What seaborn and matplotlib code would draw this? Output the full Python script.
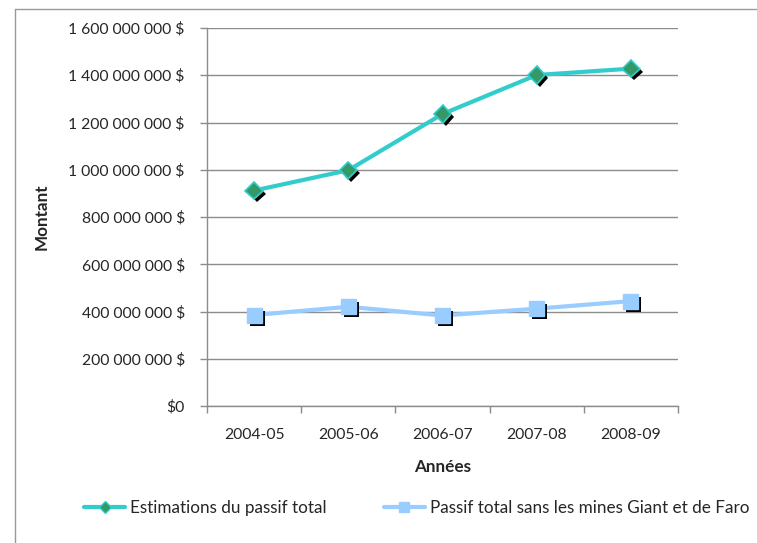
import matplotlib
matplotlib.use("Agg")
import matplotlib.pyplot as plt
import matplotlib.patheffects as pe
from matplotlib.lines import Line2D
from matplotlib.ticker import FuncFormatter, FixedLocator
import seaborn as sns
import pandas as pd

# Fiscal years and liability estimates (dollars)
annees = ["2004-05", "2005-06", "2006-07", "2007-08", "2008-09"]
passif_total = [912_000_000, 998_000_000, 1_236_000_000, 1_401_000_000, 1_428_000_000]
passif_sans_mines = [385_000_000, 420_000_000, 383_000_000, 412_000_000, 444_000_000]

serie_1 = "Estimations du passif total"
serie_2 = "Passif total sans les mines Giant et de Faro"

df = pd.DataFrame({
    "Années": list(range(len(annees))) * 2,
    "Montant": passif_total + passif_sans_mines,
    "Série": [serie_1] * len(annees) + [serie_2] * len(annees),
})

FS = 11.3      # numeric tick labels
FS_TXT = 12.3  # axis titles and legend
sns.set_theme(style="white")
plt.rcParams["font.family"] = ["Lato", "DejaVu Sans"]
plt.rcParams["font.size"] = FS

TURQ = "#33CCCC"
GREEN = "#339966"
LBLUE = "#99CCFF"
GRID = "#8C8C8C"

W, H = 757, 543
fig = plt.figure(figsize=(W / 100, H / 100), dpi=100)
ax = fig.add_axes([207 / W, 1 - 406 / H, (678 - 207) / W, (406 - 28) / H])

# connecting lines
sns.lineplot(data=df, x="Années", y="Montant", hue="Série",
             palette={serie_1: TURQ, serie_2: LBLUE}, linewidth=3.0,
             legend=False, ax=ax, zorder=3)

# markers with a black drop shadow
shadow = [pe.SimplePatchShadow(offset=(2.2, -2.2), shadow_rgbFace="black", alpha=1.0), pe.Normal()]
d1 = df[df["Série"] == serie_1]
d2 = df[df["Série"] == serie_2]
ax.plot(d1["Années"], d1["Montant"], linestyle="none", marker="D", markersize=8.8,
        markerfacecolor=GREEN, markeredgecolor=TURQ, markeredgewidth=1.2,
        path_effects=shadow, zorder=4)
ax.plot(d2["Années"], d2["Montant"], linestyle="none", marker="s", markersize=10.8,
        markerfacecolor=LBLUE, markeredgecolor=LBLUE, markeredgewidth=1.0,
        path_effects=shadow, zorder=4)

ax.set_xlim(-0.5, len(annees) - 0.5)
ax.set_ylim(0, 1_600_000_000)
ax.set_yticks(range(0, 1_600_000_001, 200_000_000))


def fmt_dollars(v, _pos):
    if v == 0:
        return "$0"
    return f"{int(v):,} $".replace(",", " ")


ax.yaxis.set_major_formatter(FuncFormatter(fmt_dollars))
ax.set_xticks(range(len(annees)))
ax.set_xticklabels(annees)
ax.xaxis.set_minor_locator(FixedLocator([i - 0.5 for i in range(len(annees) + 1)]))

ax.grid(axis="y", color=GRID, linewidth=1.0)
ax.set_axisbelow(True)
for side in ("top", "right"):
    ax.spines[side].set_visible(False)
for side in ("left", "bottom"):
    ax.spines[side].set_color(GRID)
    ax.spines[side].set_linewidth(1.0)

ax.tick_params(axis="y", which="major", direction="out", length=5, width=1,
               color=GRID, pad=11, labelsize=FS, left=True)
ax.tick_params(axis="x", which="major", length=0, pad=16, labelsize=FS)
ax.tick_params(axis="x", which="minor", direction="out", length=5, width=1,
               color=GRID, bottom=True)

ax.set_xlabel("Années", fontweight="bold", fontsize=FS_TXT, va="center")
ax.set_ylabel("Montant", fontweight="bold", fontsize=FS_TXT, va="center")
ax.xaxis.set_label_coords(0.5, -(467 - 406) / 378)
ax.yaxis.set_label_coords(-(207 - 42) / 471, 0.5)

# legend below the plot
handles = [
    Line2D([], [], color=TURQ, linewidth=3.0, marker="D", markersize=6,
           markerfacecolor=GREEN, markeredgecolor=TURQ),
    Line2D([], [], color=LBLUE, linewidth=3.0, marker="s", markersize=7,
           markerfacecolor=LBLUE, markeredgecolor=LBLUE),
]
fs_px = FS_TXT * 100 / 72
fig.legend(handles, [serie_1, serie_2], loc="center left", ncol=2, frameon=False,
           bbox_to_anchor=((84 - 0.4 * fs_px) / W, 1 - 508 / H), fontsize=FS_TXT,
           borderaxespad=0, handlelength=41 / fs_px, handletextpad=5 / fs_px,
           columnspacing=57 / fs_px)

# chart frame
fig.add_artist(Line2D([15 / W, 15 / W], [0, 1 - 9 / H], color="#999999", linewidth=1.0))
fig.add_artist(Line2D([15 / W, 1], [1 - 9 / H, 1 - 9 / H], color="#999999", linewidth=1.0))

fig.savefig("out.png", dpi=100)
